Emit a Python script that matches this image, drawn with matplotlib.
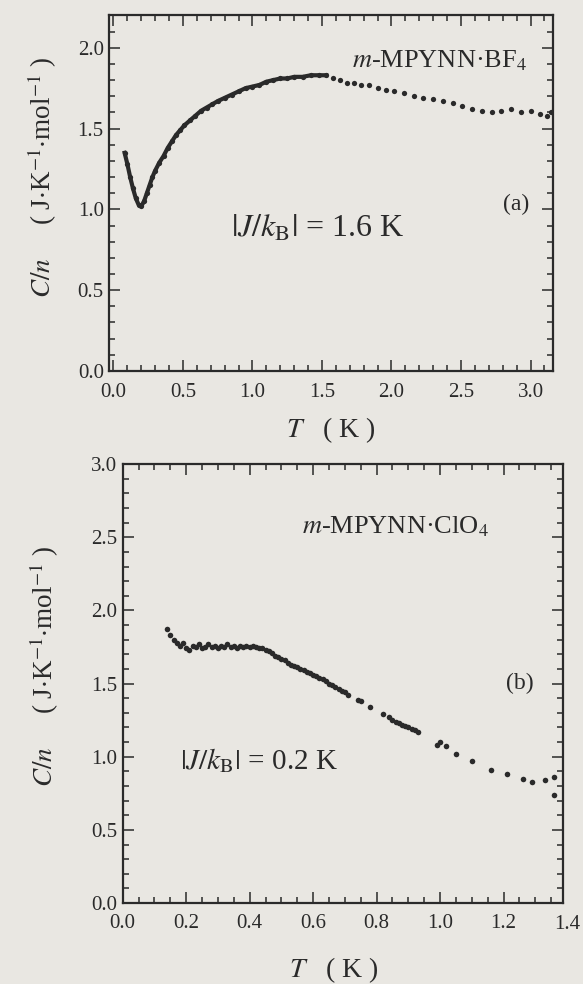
"""Specific heat of m-MPYNN salts, two stacked panels."""

import matplotlib
matplotlib.use('Agg')
import matplotlib.pyplot as plt
from matplotlib.ticker import MultipleLocator

plt.rcParams['font.family'] = ['Liberation Serif', 'DejaVu Serif']
plt.rcParams['mathtext.fontset'] = 'stix'

BG = '#e9e7e2'
INK = '#2a2a2a'

# (a) m-MPYNN.BF4
t_bf4 = [0.08, 0.10, 0.12, 0.14, 0.16, 0.18, 0.20, 0.22, 0.24, 0.26, 0.28, 0.30,
         0.33, 0.36, 0.39, 0.42, 0.45, 0.48, 0.51, 0.55, 0.59, 0.63, 0.67, 0.71,
         0.75, 0.80, 0.85, 0.90, 0.95, 1.00, 1.05, 1.10, 1.15, 1.20, 1.25, 1.30,
         1.36, 1.42, 1.48, 1.53, 1.58, 1.63, 1.68, 1.73, 1.78, 1.84, 1.90, 1.96,
         2.02, 2.09, 2.16, 2.23, 2.30, 2.37, 2.44, 2.51, 2.58, 2.65, 2.72, 2.79,
         2.86, 2.93, 3.00, 3.07, 3.12, 3.15]
c_bf4 = [1.35, 1.28, 1.20, 1.13, 1.07, 1.03, 1.02, 1.05, 1.10, 1.15, 1.20, 1.24,
         1.29, 1.33, 1.38, 1.42, 1.46, 1.49, 1.52, 1.55, 1.58, 1.61, 1.63, 1.65,
         1.67, 1.69, 1.71, 1.73, 1.75, 1.76, 1.77, 1.79, 1.80, 1.81, 1.81, 1.82,
         1.82, 1.83, 1.83, 1.83, 1.81, 1.80, 1.78, 1.78, 1.77, 1.77, 1.75, 1.74,
         1.73, 1.72, 1.70, 1.69, 1.68, 1.67, 1.66, 1.64, 1.62, 1.61, 1.60, 1.61,
         1.62, 1.60, 1.61, 1.59, 1.58, 1.60]

# (b) m-MPYNN.ClO4
t_clo4 = [0.14, 0.15, 0.16, 0.17, 0.18, 0.19, 0.20, 0.21, 0.22, 0.23, 0.24, 0.25,
          0.26, 0.27, 0.28, 0.29, 0.30, 0.31, 0.32, 0.33, 0.34, 0.35, 0.36, 0.37,
          0.38, 0.39, 0.40, 0.41, 0.42, 0.43, 0.44, 0.45, 0.46, 0.47, 0.48, 0.49,
          0.50, 0.51, 0.52, 0.53, 0.54, 0.55, 0.56, 0.57, 0.58, 0.59, 0.60, 0.61,
          0.62, 0.63, 0.64, 0.65, 0.66, 0.67, 0.68, 0.69, 0.70, 0.71, 0.74, 0.75,
          0.78, 0.82, 0.84, 0.85, 0.86, 0.87, 0.88, 0.89, 0.90, 0.91, 0.92, 0.93,
          0.99, 1.00, 1.02, 1.05, 1.10, 1.16, 1.21, 1.26, 1.29, 1.33, 1.36, 1.36]
c_clo4 = [1.87, 1.83, 1.80, 1.78, 1.76, 1.78, 1.74, 1.73, 1.76, 1.75, 1.77, 1.74,
          1.75, 1.77, 1.75, 1.76, 1.74, 1.76, 1.75, 1.77, 1.75, 1.76, 1.74, 1.76,
          1.75, 1.76, 1.75, 1.76, 1.75, 1.74, 1.74, 1.73, 1.72, 1.71, 1.69, 1.68,
          1.67, 1.66, 1.64, 1.63, 1.62, 1.61, 1.60, 1.59, 1.58, 1.57, 1.56, 1.55,
          1.54, 1.53, 1.52, 1.50, 1.49, 1.48, 1.46, 1.45, 1.44, 1.42, 1.39, 1.38,
          1.34, 1.29, 1.27, 1.25, 1.24, 1.23, 1.22, 1.21, 1.20, 1.19, 1.18, 1.17,
          1.08, 1.10, 1.07, 1.02, 0.97, 0.91, 0.88, 0.85, 0.83, 0.84, 0.86, 0.74]

YLABEL = r'$C/n$     ( J$\cdot$K$^{-1}$$\cdot$mol$^{-1}$ )'
XLABEL = r'$T$   ( K )'


def style(ax, xmaj, xmin, ymaj, ymin, xpad, xlab_pos, ylab_pos):
    ax.set_facecolor(BG)
    ax.xaxis.set_major_locator(MultipleLocator(xmaj))
    ax.xaxis.set_minor_locator(MultipleLocator(xmin))
    ax.yaxis.set_major_locator(MultipleLocator(ymaj))
    ax.yaxis.set_minor_locator(MultipleLocator(ymin))
    ax.tick_params(which='both', direction='in', top=True, right=True,
                   colors=INK, labelsize=15, width=1.1, pad=4)
    ax.tick_params(axis='x', which='major', pad=xpad)
    ax.tick_params(which='major', length=8)
    ax.tick_params(which='minor', length=4)
    for s in ax.spines.values():
        s.set_linewidth(1.6)
        s.set_color(INK)
    ax.set_ylabel(YLABEL, fontsize=19.5, color=INK)
    ax.set_xlabel(XLABEL, fontsize=20, color=INK)
    ax.xaxis.set_label_coords(*xlab_pos)
    ax.xaxis.label.set_va('center')
    ax.yaxis.set_label_coords(*ylab_pos)
    ax.yaxis.label.set_va('center')


fig = plt.figure(figsize=(5.83, 9.84), dpi=100, facecolor=BG)

ax1 = fig.add_axes([0.1875, 0.623, 0.7606, 0.3613])
ax1.plot(t_bf4, c_bf4, 'o', ms=3.8, color=INK, mec='none')
ax1.plot(t_bf4[:40], c_bf4[:40], '-', lw=3.0, color=INK)
ax1.set_xlim(-0.03, 3.16)
ax1.set_ylim(0, 2.2)
style(ax1, 0.5, 0.1, 0.5, 0.1, 9, (0.5, -0.166), (-0.15, 0.546))
ax1.text(2.98, 1.92, r'$m$-MPYNN·BF$_4$', fontsize=19, ha='right',
         va='center', color=INK)
ax1.text(2.9, 1.03, '(a)', fontsize=17, ha='center', va='center', color=INK)
ax1.text(1.47, 0.88, r'$|J/k_{\rm B}|$ = 1.6 K', fontsize=23, ha='center',
         va='center', color=INK)

ax2 = fig.add_axes([0.2105, 0.0823, 0.7556, 0.446])
ax2.plot(t_clo4, c_clo4, 'o', ms=4.0, color=INK, mec='none')
ax2.set_xlim(0, 1.388)
ax2.set_ylim(0, 3.0)
style(ax2, 0.2, 0.05, 0.5, 0.1, 8, (0.48, -0.153), (-0.177, 0.54))
ax2.text(0.86, 2.57, r'$m$-MPYNN·ClO$_4$', fontsize=19, ha='center',
         va='center', color=INK)
ax2.text(1.25, 1.50, '(b)', fontsize=17, ha='center', va='center', color=INK)
ax2.text(0.43, 0.97, r'$|J/k_{\rm B}|$ = 0.2 K', fontsize=21, ha='center',
         va='center', color=INK)
# the 1.4 tick label sits just past the right edge of the frame
ax2.text(1.4, -0.027, '1.4', transform=ax2.get_xaxis_transform(),
         fontsize=15, ha='center', va='top', color=INK)

fig.savefig('out.png', dpi=100, facecolor=BG)
